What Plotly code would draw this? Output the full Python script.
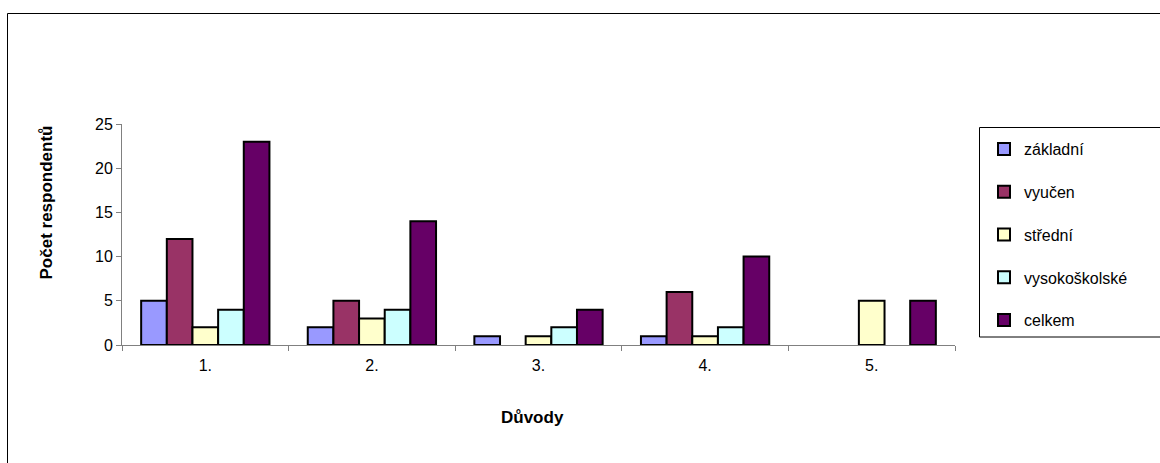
import plotly.graph_objects as go

categories = ["1.", "2.", "3.", "4.", "5."]
series_names = ["základní", "vyučen", "střední", "vysokoškolské", "celkem"]
zakladni = [5, 2, 1, 1, 0]
vyucen = [12, 5, 0, 6, 0]
stredni = [2, 3, 1, 1, 5]
vysokoskolske = [4, 4, 2, 2, 0]
celkem = [23, 14, 4, 10, 5]
series_values = [zakladni, vyucen, stredni, vysokoskolske, celkem]
colors = ["#9999FF", "#993366", "#FFFFCC", "#CCFFFF", "#660066"]
x_title = "Důvody"
y_title = "Počet respondentů"

W, H = 1160, 463
ML, MR, MT, MB = 122, 205, 124, 118
PW = W - ML - MR
PH = H - MT - MB

def px_x(x):
    return (x - ML) / PW

def px_y(y):
    return (H - MB - y) / PH

fig = go.Figure()
for name, vals, col in zip(series_names, series_values, colors):
    fig.add_trace(go.Bar(
        x=categories,
        y=[v if v != 0 else None for v in vals],
        name=name,
        legendgroup=name,
        marker=dict(color=col, line=dict(color="#000000", width=2)),
    ))

font_family = "Liberation Sans, Arial, sans-serif"

fig.update_layout(
    width=W, height=H,
    margin=dict(l=ML, r=MR, t=MT, b=MB, autoexpand=False),
    paper_bgcolor="white",
    plot_bgcolor="white",
    barmode="group",
    bargap=0.23,
    bargroupgap=0,
    font=dict(family=font_family, size=16, color="#000000"),
    showlegend=True,
    legend=dict(
        x=px_x(984), y=px_y(132), xanchor="left", yanchor="top",
        bgcolor="rgba(0,0,0,0)", borderwidth=0,
        tracegroupgap=19,
        font=dict(family=font_family, size=16),
        itemwidth=30,
    ),
    xaxis=dict(
        type="category",
        tickson="boundaries",
        ticks="outside", ticklen=5, tickcolor="#808080",
        showline=True, linecolor="#808080", linewidth=1,
        showgrid=False, zeroline=False,
        tickfont=dict(size=16),
        ticklabelstandoff=6,
        automargin=False,
    ),
    yaxis=dict(
        range=[0, 25], dtick=5,
        ticks="outside", ticklen=5, tickcolor="#808080",
        showline=True, linecolor="#808080", linewidth=1,
        showgrid=False, zeroline=False,
        tickfont=dict(size=16),
        automargin=False,
    ),
    annotations=[
        dict(text="<b>" + x_title + "</b>", xref="paper", yref="paper",
             x=px_x(532.5), y=px_y(417), xanchor="center", yanchor="middle",
             showarrow=False, font=dict(size=17)),
        dict(text="<b>" + y_title + "</b>", xref="paper", yref="paper",
             x=px_x(45.5), y=px_y(203), xanchor="center", yanchor="middle",
             textangle=-90, showarrow=False, font=dict(size=17)),
    ],
    shapes=[
        dict(type="rect", xref="paper", yref="paper",
             x0=px_x(7.5), x1=px_x(1170), y0=px_y(475), y1=px_y(13.5),
             line=dict(color="#000000", width=1), fillcolor="rgba(0,0,0,0)", layer="below"),
        dict(type="rect", xref="paper", yref="paper",
             x0=px_x(979.5), x1=px_x(1170), y0=px_y(337), y1=px_y(127.5),
             line=dict(color="#000000", width=1), fillcolor="rgba(0,0,0,0)", layer="below"),
    ],
)

fig.write_html("out.html", post_script="document.body.style.margin='0';",
               config={"displayModeBar": False})
